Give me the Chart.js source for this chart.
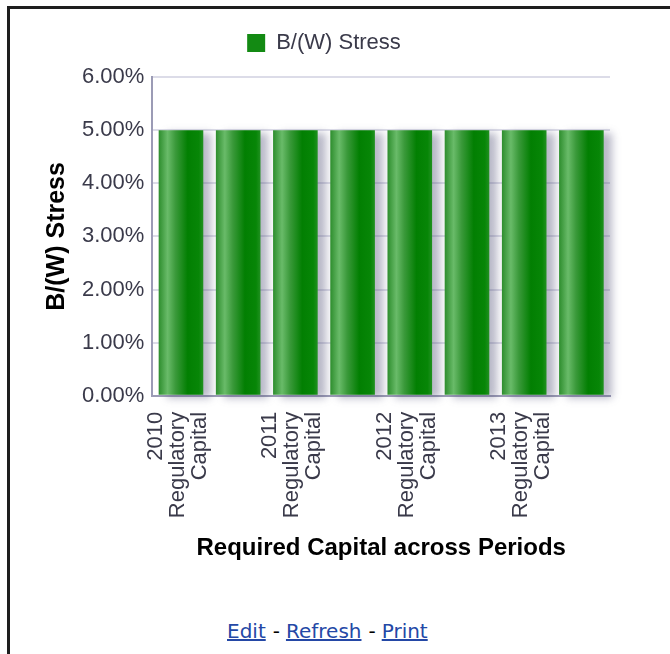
<!DOCTYPE html>
<html>
<head>
<meta charset="utf-8">
<script src="https://cdn.jsdelivr.net/npm/chart.js@4/dist/chart.umd.min.js"></script>
<style>
body { margin: 0; background: #fff; width: 670px; height: 654px; overflow: hidden; position: relative; }
#frame { position: absolute; left: 7px; top: 6px; width: 720px; height: 720px; border-top: 3px solid #1e1e1e; border-left: 3px solid #1e1e1e; }
#wrap { position: absolute; left: 10px; top: 0; width: 626px; height: 600px; }
#links { position: absolute; top: 619px; left: 227px; font-family: "DejaVu Sans", sans-serif; font-size: 20px; color: #000; white-space: pre; }
#links a { color: #2448a6; text-decoration: underline; }
#links span { margin: 0 6px 0 7px; }
</style>
</head>
<body>
<div id="frame"></div>
<div id="wrap"><canvas id="chart01" width="626" height="600"></canvas></div>
<div id="links"><a>Edit</a><span>-</span><a>Refresh</a><span>-</span><a>Print</a></div>
<script>
// bars shown in the chart, only every other one gets a label
const categories = [
  ['2010', 'Regulatory', 'Capital'], '',
  ['2011', 'Regulatory', 'Capital'], '',
  ['2012', 'Regulatory', 'Capital'], '',
  ['2013', 'Regulatory', 'Capital'], ''
];
const stressValues = [5, 5, 5, 5, 5, 5, 5, 5];   // percent
const yTicks = [0, 1, 2, 3, 4, 5, 6];

const font = '"Liberation Sans", Arial, sans-serif';
const tickColor = '#3a3a4a';
const axisColor = '#9b9bb5';

// cylinder look + soft shadow on the bars
const barLook = {
  id: 'barLook',
  afterInit(chart) {
    // leave a gap between legend and plot
    const lg = chart.legend;
    const fit = lg.fit;
    lg.fit = function () { fit.call(this); this.height += 13; };
  },
  beforeDatasetsDraw(chart) {
    const ctx = chart.ctx;
    chart.getDatasetMeta(0).data.forEach(function (bar) {
      const l = bar.x - bar.width / 2, r = bar.x + bar.width / 2;
      const g = ctx.createLinearGradient(l, 0, r, 0);
      g.addColorStop(0, '#2d8d2d');
      g.addColorStop(0.2, '#69bb69');
      g.addColorStop(0.38, '#3a993a');
      g.addColorStop(0.65, '#027f02');
      g.addColorStop(0.9, '#078607');
      g.addColorStop(1, '#219121');
      bar.options.backgroundColor = g;
    });
    ctx.save();
    ctx.shadowColor = 'rgba(70,70,110,0.38)';
    ctx.shadowOffsetX = 8;
    ctx.shadowOffsetY = 3;
    ctx.shadowBlur = 8;
  },
  afterDatasetsDraw(chart) {
    chart.ctx.restore();
  }
};

var ctx = document.getElementById('chart01').getContext('2d');
var myChart = new Chart(ctx, {
  type: 'bar',
  data: {
    labels: categories,
    datasets: [{
      label: 'B/(W) Stress',
      data: stressValues,
      backgroundColor: function () { return '#138a13'; },
      borderWidth: 0,
      barPercentage: 0.78,
      categoryPercentage: 1,
      clip: false
    }]
  },
  options: {
    responsive: false,
    animation: false,
    layout: { padding: { left: 28, right: 26, top: 22, bottom: 33 } },
    plugins: {
      tooltip: { enabled: false },
      legend: {
        position: 'top',
        labels: {
          boxWidth: 18, boxHeight: 18, padding: 10,
          color: tickColor,
          font: { family: font, size: 22 }
        }
      }
    },
    scales: {
      x: {
        grid: { display: false, drawTicks: false },
        border: { display: true, color: axisColor, width: 2 },
        ticks: {
          autoSkip: false, maxRotation: 90, minRotation: 90, padding: 16,
          labelOffset: -25,
          color: tickColor,
          font: { family: font, size: 22, lineHeight: 1.0 }
        },
        title: {
          display: true,
          text: 'Required Capital across Periods',
          color: '#000',
          font: { family: font, size: 24, weight: 'bold' },
          padding: { top: 0, bottom: 4 }
        }
      },
      y: {
        min: 0,
        max: 6,
        afterBuildTicks: function (axis) {
          axis.ticks = yTicks.map(function (v) { return { value: v }; });
        },
        grid: { color: '#dcdce8', drawTicks: false, lineWidth: 2 },
        border: { color: axisColor, width: 2 },
        ticks: {
          padding: 8,
          color: tickColor,
          font: { family: font, size: 22 },
          callback: function (v) { return v.toFixed(2) + '%'; }
        },
        title: {
          display: true,
          text: 'B/(W) Stress',
          color: '#000',
          font: { family: font, size: 25, weight: 'bold' },
          padding: { top: 4, bottom: 2 }
        }
      }
    }
  },
  plugins: [barLook]
});
</script>
</body>
</html>
